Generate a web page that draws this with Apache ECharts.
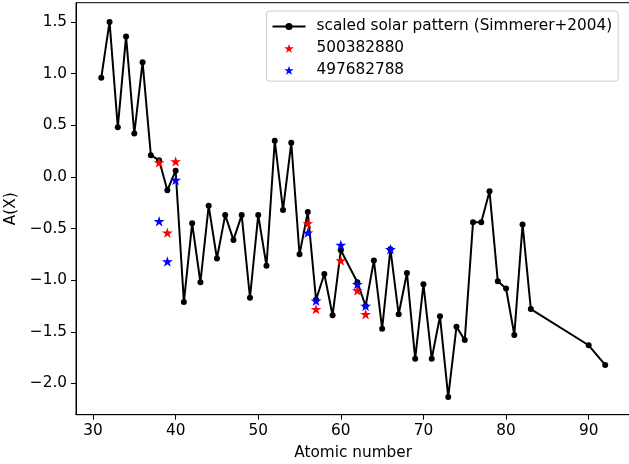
<!DOCTYPE html>
<html>
<head>
<meta charset="utf-8">
<script src="https://cdn.jsdelivr.net/npm/echarts@6/dist/echarts.min.js"></script>
<style>
html,body{margin:0;padding:0;background:#fff;}
#chart{width:629px;height:464px;}
</style>
</head>
<body>
<div id="chart"></div>
<script>
// Scaled solar pattern (Simmerer+2004)
const solarZ = [31,32,33,34,35,36,37,38,39,40,41,42,43,44,45,46,47,48,49,50,51,52,53,54,55,56,57,58,59,60,62,63,64,65,66,67,68,69,70,71,72,73,74,75,76,77,78,79,80,81,82,83,90,92];
const solarA = [0.96,1.50,0.48,1.36,0.42,1.11,0.21,0.16,-0.13,0.06,-1.21,-0.45,-1.02,-0.28,-0.79,-0.37,-0.61,-0.37,-1.17,-0.37,-0.86,0.35,-0.32,0.33,-0.75,-0.34,-1.19,-0.94,-1.34,-0.71,-1.02,-1.25,-0.81,-1.47,-0.70,-1.33,-0.93,-1.76,-1.04,-1.76,-1.35,-2.13,-1.45,-1.58,-0.44,-0.44,-0.14,-1.01,-1.08,-1.53,-0.46,-1.28,-1.63,-1.82];
// Star 500382880
const redZ = [38,39,40,56,57,60,62,63];
const redA = [0.14,-0.54,0.15,-0.45,-1.28,-0.81,-1.10,-1.33];
// Star 497682788
const blueZ = [38,39,40,56,57,60,62,63,66];
const blueA = [-0.43,-0.82,-0.03,-0.54,-1.20,-0.66,-1.04,-1.25,-0.70];
// Tick labels
const xTicks = [30,40,50,60,70,80,90];
const yTicks = [-2.0,-1.5,-1.0,-0.5,0.0,0.5,1.0,1.5];

const pair = (xs, ys) => xs.map((x, i) => [x, ys[i]]);
const STAR = 'path://M0,-100L22.45,-30.9L95.1,-30.9L36.3,11.8L58.8,80.9L0,38.2L-58.8,80.9L-36.3,11.8L-95.1,-30.9L-22.45,-30.9Z';
const FONT = 'DejaVu Sans';
const FS = 15.3;
const minus = v => String(v).replace('-', '\u2212');

const chart = echarts.init(document.getElementById('chart'), null, {renderer: 'canvas'});
chart.setOption({
  animation: false,
  backgroundColor: '#fff',
  grid: {left: 76, right: -1.3, top: 2.7, bottom: 49.3, containLabel: false, outerBoundsMode: 'none',
         show: true, borderColor: '#000', borderWidth: 1, backgroundColor: 'transparent'},
  xAxis: {
    type: 'value', min: 27.94, max: 95.04,
    name: 'Atomic number', nameLocation: 'middle', nameGap: 31,
    nameTextStyle: {fontFamily: FONT, fontSize: FS, color: '#000'},
    axisLine: {show: true, onZero: false, lineStyle: {color: '#000', width: 1}},
    axisTick: {show: true, length: 5, lineStyle: {color: '#000', width: 1}, customValues: xTicks},
    axisLabel: {fontFamily: FONT, fontSize: FS, color: '#000', margin: 9, customValues: xTicks, formatter: v => minus(v)},
    splitLine: {show: false}
  },
  yAxis: {
    type: 'value', min: -2.302, max: 1.686,
    name: 'A(X)', nameLocation: 'middle', nameGap: 54, nameRotate: 90,
    nameTextStyle: {fontFamily: FONT, fontSize: FS, color: '#000'},
    axisLine: {show: true, onZero: false, lineStyle: {color: '#000', width: 1}},
    axisTick: {show: true, length: 5, lineStyle: {color: '#000', width: 1}, customValues: yTicks},
    axisLabel: {fontFamily: FONT, fontSize: FS, color: '#000', margin: 9, customValues: yTicks, formatter: v => minus(v.toFixed(1))},
    splitLine: {show: false}
  },
  legend: {
    orient: 'vertical', left: 266.5, top: 11,
    padding: [8, 6, 3.4, 5],
    itemWidth: 33, itemHeight: 9, itemGap: 6.9,
    borderColor: '#cccccc', borderWidth: 1, borderRadius: 3, backgroundColor: 'rgba(255,255,255,0.8)',
    textStyle: {fontFamily: FONT, fontSize: FS, color: '#000', padding: [0, 0, 0, 6]},
    data: ['scaled solar pattern (Simmerer+2004)', '500382880', '497682788']
  },
  series: [
    {
      name: 'scaled solar pattern (Simmerer+2004)', type: 'line',
      data: pair(solarZ, solarA),
      symbol: 'circle', symbolSize: 6, showSymbol: true,
      lineStyle: {color: '#000', width: 2}, itemStyle: {color: '#000'},
      z: 2
    },
    {
      name: '500382880', type: 'scatter',
      data: pair(redZ, redA),
      symbol: STAR, symbolSize: 11, symbolKeepAspect: true,
      itemStyle: {color: '#ff0000', opacity: 1},
      z: 3
    },
    {
      name: '497682788', type: 'scatter',
      data: pair(blueZ, blueA),
      symbol: STAR, symbolSize: 11, symbolKeepAspect: true,
      itemStyle: {color: '#0000ff', opacity: 1},
      z: 4
    }
  ]
});
</script>
</body>
</html>
